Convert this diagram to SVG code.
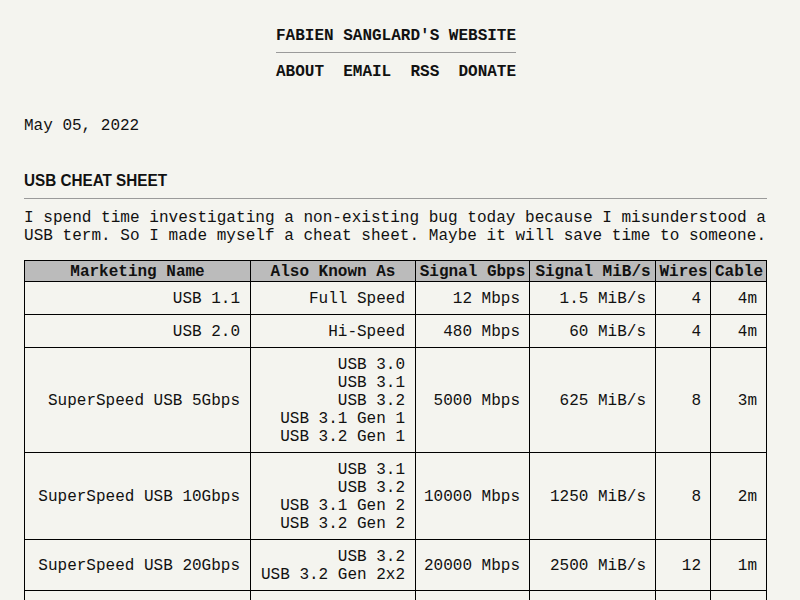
<svg xmlns="http://www.w3.org/2000/svg" width="800" height="600" viewBox="0 0 800 600">
<style>
text{font-family:"Liberation Mono","DejaVu Sans Mono",monospace;font-size:16px;fill:#111}
.b{font-weight:bold}
.c{text-anchor:middle}
.e{text-anchor:end}
.h2{font-family:"Liberation Sans",Arial,sans-serif;font-weight:bold}
.hr{stroke:#9a9a9a;stroke-width:1}
.grid line{stroke:#000;stroke-width:1}
</style>
<rect x="0" y="0" width="800" height="600" fill="#f4f4ef"/>
<g id="header">
<text class="b" x="276" y="39.5">FABIEN SANGLARD'S WEBSITE</text>
<line class="hr" x1="276" y1="52.5" x2="516" y2="52.5"/>
<text class="b" x="276" y="75.5" xml:space="preserve">ABOUT  EMAIL  RSS  DONATE</text>
</g>
<g id="article">
<text x="24" y="129.5">May 05, 2022</text>
<text class="h2" x="24" y="185.5" textLength="143" lengthAdjust="spacingAndGlyphs">USB CHEAT SHEET</text>
<line class="hr" x1="24" y1="198.5" x2="767" y2="198.5"/>
<text x="24" y="221.5" textLength="742" lengthAdjust="spacingAndGlyphs">I spend time investigating a non-existing bug today because I misunderstood a</text>
<text x="24" y="239.5" textLength="742" lengthAdjust="spacing">USB term. So I made myself a cheat sheet. Maybe it will save time to someone.</text>
</g>
<g id="table">
<rect x="24" y="260" width="743" height="21" fill="#bbbbbb"/>
<g class="grid">
<line x1="24" y1="260.5" x2="767" y2="260.5"/>
<line x1="24" y1="281.5" x2="767" y2="281.5"/>
<line x1="24" y1="314.5" x2="767" y2="314.5"/>
<line x1="24" y1="347.5" x2="767" y2="347.5"/>
<line x1="24" y1="452.5" x2="767" y2="452.5"/>
<line x1="24" y1="539.5" x2="767" y2="539.5"/>
<line x1="24" y1="590.5" x2="767" y2="590.5"/>
<line x1="24.5" y1="260" x2="24.5" y2="600"/>
<line x1="250.5" y1="260" x2="250.5" y2="600"/>
<line x1="415.5" y1="260" x2="415.5" y2="600"/>
<line x1="529.5" y1="260" x2="529.5" y2="600"/>
<line x1="655.5" y1="260" x2="655.5" y2="600"/>
<line x1="710.5" y1="260" x2="710.5" y2="600"/>
<line x1="766.5" y1="260" x2="766.5" y2="600"/>
</g>
<g id="thead" class="b">
<text class="b c" x="137.5" y="276">Marketing Name</text>
<text class="b c" x="333" y="276">Also Known As</text>
<text class="b c" x="472.5" y="276">Signal Gbps</text>
<text class="b c" x="593" y="276">Signal MiB/s</text>
<text class="b c" x="683.5" y="276">Wires</text>
<text class="b c" x="739" y="276">Cable</text>
</g>
<g id="row1">
<text class="e" x="240" y="303">USB 1.1</text>
<text class="e" x="405" y="303">Full Speed</text>
<text class="e" x="520" y="303">12 Mbps</text>
<text class="e" x="646" y="303">1.5 MiB/s</text>
<text class="e" x="701" y="303">4</text>
<text class="e" x="757" y="303">4m</text>
</g>
<g id="row2">
<text class="e" x="240" y="336">USB 2.0</text>
<text class="e" x="405" y="336">Hi-Speed</text>
<text class="e" x="520" y="336">480 Mbps</text>
<text class="e" x="646" y="336">60 MiB/s</text>
<text class="e" x="701" y="336">4</text>
<text class="e" x="757" y="336">4m</text>
</g>
<g id="row3">
<text class="e" x="240" y="405">SuperSpeed USB 5Gbps</text>
<text class="e" x="405" y="368.5">USB 3.0</text>
<text class="e" x="405" y="386.5">USB 3.1</text>
<text class="e" x="405" y="404.5">USB 3.2</text>
<text class="e" x="405" y="422.5">USB 3.1 Gen 1</text>
<text class="e" x="405" y="440.5">USB 3.2 Gen 1</text>
<text class="e" x="520" y="405">5000 Mbps</text>
<text class="e" x="646" y="405">625 MiB/s</text>
<text class="e" x="701" y="405">8</text>
<text class="e" x="757" y="405">3m</text>
</g>
<g id="row4">
<text class="e" x="240" y="501">SuperSpeed USB 10Gbps</text>
<text class="e" x="405" y="473.5">USB 3.1</text>
<text class="e" x="405" y="491.5">USB 3.2</text>
<text class="e" x="405" y="509.5">USB 3.1 Gen 2</text>
<text class="e" x="405" y="527.5">USB 3.2 Gen 2</text>
<text class="e" x="520" y="501">10000 Mbps</text>
<text class="e" x="646" y="501">1250 MiB/s</text>
<text class="e" x="701" y="501">8</text>
<text class="e" x="757" y="501">2m</text>
</g>
<g id="row5">
<text class="e" x="240" y="570">SuperSpeed USB 20Gbps</text>
<text class="e" x="405" y="560.5">USB 3.2</text>
<text class="e" x="405" y="578.5">USB 3.2 Gen 2x2</text>
<text class="e" x="520" y="570">20000 Mbps</text>
<text class="e" x="646" y="570">2500 MiB/s</text>
<text class="e" x="701" y="570">12</text>
<text class="e" x="757" y="570">1m</text>
</g>
</g>
</svg>
